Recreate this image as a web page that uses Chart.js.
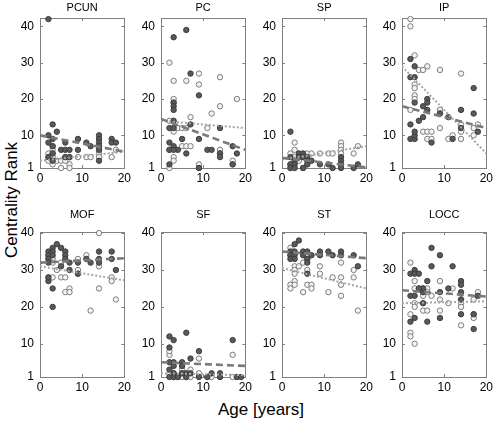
<!DOCTYPE html>
<html>
<head>
<meta charset="utf-8">
<script src="https://cdn.jsdelivr.net/npm/chart.js@4/dist/chart.umd.min.js"></script>
<style>
  body { margin: 0; background: #fff; }
  #page { position: relative; width: 498px; height: 421px; overflow: hidden; font-family: "Liberation Sans", Arial, sans-serif; }
  .lbl { position: absolute; font-size: 17px; color: #000; white-space: nowrap; }
</style>
</head>
<body>
<div id="page">
  <div class="lbl" id="ylab">Centrality Rank</div>
  <div class="lbl" id="xlab">Age [years]</div>
</div>
<script>
// region names, in panel order
const regions = ['PCUN', 'PC', 'SP', 'IP', 'MOF', 'SF', 'ST', 'LOCC'];
const xTicks = [0, 10, 20];
const yTicks = [1, 10, 20, 30, 40];

// [age, rank]; filled = dark dots, open = light circles
const pcunFilled = [[2,42],[2,10],[3,13],[4,11],[3,9],[2,8],[3,7],[2,4],[3,5],[5,6],[6,6],[7,6],[6,8],[7,4],[9,9],[9,6],[11,8],[12,7],[14,10],[14,9],[14,8],[14,7],[14,6],[14,3],[17,9],[17,8],[18,8],[3,3],[6,4]];
const pcunOpen = [[2,5],[2,4],[2,3],[3,7],[3,6],[3,5],[3,4],[3,3],[3,2],[4,3],[5,3],[6,3],[6,4],[5,1],[7,2],[7,1],[7,4],[9,4],[11,4],[12,4],[14,7],[14,6],[14,5],[14,4],[17,4],[18,6]];
const pcFilled = [[3,37],[6,39],[7,27],[9,21],[3,19],[3,18],[3,17],[3,14],[2,12],[3,12],[7,13],[2,8],[3,7],[4,6],[5,9],[6,5],[2,6],[9,9],[9,1],[2,2],[11,6],[12,6],[14,12],[14,5],[14,4],[17,7],[17,2],[18,5],[3,6]];
const pcOpen = [[2,30],[3,25],[3,20],[3,19],[6,25],[9,27],[9,24],[14,26],[14,18],[18,20],[12,16],[7,15],[11,12],[2,14],[3,12],[3,11],[4,12],[5,12],[6,12],[2,6],[3,4],[3,3],[5,7],[6,7],[7,7],[9,2],[9,1],[14,6],[14,5],[17,3],[17,2],[2,1]];
const spFilled = [[2,11],[2,4],[2,2],[2,1],[3,3],[3,2],[3,1],[4,5],[4,4],[5,5],[5,4],[5,1],[6,4],[6,3],[6,2],[7,3],[9,2],[11,2],[12,1],[14,4],[14,3],[14,2],[14,1],[17,1],[18,2]];
const spOpen = [[3,8],[3,6],[2,5],[2,2],[2,1],[4,4],[5,4],[6,5],[7,5],[9,5],[11,5],[12,5],[14,8],[14,7],[14,6],[14,5],[17,5],[18,7],[5,1],[6,2],[3,4],[4,3]];
const ipFilled = [[2,31],[2,26],[3,26],[3,29],[3,19],[6,20],[6,19],[6,17],[5,18],[5,15],[4,14],[2,13],[2,9],[3,9],[3,10],[3,11],[7,8],[9,16],[11,15],[12,9],[14,17],[14,12],[17,23],[17,16],[18,11]];
const ipOpen = [[2,42],[2,40],[3,32],[4,28],[5,28],[6,29],[9,28],[14,27],[3,24],[3,23],[3,21],[3,20],[2,17],[9,17],[9,16],[9,12],[5,11],[6,11],[7,11],[6,9],[7,9],[11,9],[12,10],[14,9],[14,11],[14,13],[17,12],[17,10],[18,13]];
const mofFilled = [[2,35],[2,34],[2,33],[2,32],[3,36],[3,35],[3,34],[4,37],[5,36],[6,35],[6,34],[6,33],[7,32],[2,27],[2,28],[3,25],[3,20],[5,31],[7,30],[9,32],[9,29],[11,33],[12,32],[14,35],[14,33],[14,32],[17,35],[17,33],[18,30]];
const mofOpen = [[2,33],[3,33],[3,32],[4,30],[2,28],[3,28],[5,28],[6,28],[6,24],[7,25],[7,24],[9,33],[9,30],[9,29],[11,34],[12,19],[14,40],[14,31],[14,25],[17,28],[17,27],[18,22],[5,32],[2,34]];
const sfFilled = [[2,12],[3,11],[6,13],[2,9],[3,5],[3,4],[3,2],[2,3],[2,5],[5,5],[5,4],[7,6],[9,8],[12,2],[14,2],[17,11],[18,1],[19,1],[2,1],[3,1],[4,1],[6,2],[7,2],[9,1],[11,1],[14,1],[6,1],[5,2]];
const sfOpen = [[2,7],[2,8],[9,6],[17,7],[2,2],[3,2],[3,1],[4,1],[5,1],[6,1],[7,1],[9,2],[11,1],[12,1],[14,1],[17,1],[18,1],[5,3],[7,3],[5,2]];
const stFilled = [[2,35],[2,34],[2,33],[3,37],[4,38],[3,35],[3,34],[5,35],[5,34],[6,35],[6,33],[6,29],[7,34],[9,35],[9,34],[11,35],[12,34],[14,35],[14,34],[17,34],[18,31],[3,33],[6,32]];
const stOpen = [[2,36],[3,31],[3,30],[3,29],[2,26],[2,25],[3,27],[3,26],[4,31],[5,32],[5,24],[6,33],[6,30],[6,26],[7,26],[7,25],[9,31],[9,29],[11,24],[12,28],[14,32],[14,28],[14,26],[14,23],[17,30],[17,28],[18,19],[2,34]];
const loccFilled = [[2,29],[3,30],[3,29],[4,29],[2,23],[3,23],[2,16],[3,17],[5,24],[5,21],[6,27],[6,16],[7,36],[7,31],[9,34],[9,24],[9,17],[11,25],[12,31],[14,27],[14,26],[14,24],[14,22],[14,18],[17,18],[17,14],[18,23],[5,25],[4,25]];
const loccOpen = [[2,32],[2,18],[2,13],[2,12],[3,27],[3,25],[3,21],[3,20],[3,10],[4,25],[5,25],[6,25],[5,23],[5,19],[6,19],[7,23],[9,27],[9,22],[9,19],[11,21],[12,25],[14,22],[14,21],[14,20],[14,15],[17,22],[17,18],[17,17],[18,24],[6,24]];

// fitted lines, rank at age 0 and at age 20
const dashedFit = [[10,5.5],[14.5,6],[3.8,1.2],[18,12],[32,33.2],[5,4],[35,33.2],[24.5,22.8]];
const dottedFit = [[3,5.5],[14,12],[3.3,7],[29,5],[31,27.2],[2,1.5],[30.5,25],[21,21.5]];

const filledSets = [pcunFilled, pcFilled, spFilled, ipFilled, mofFilled, sfFilled, stFilled, loccFilled];
const openSets = [pcunOpen, pcOpen, spOpen, ipOpen, mofOpen, sfOpen, stOpen, loccOpen];

// layout
const colLeft = [40, 161, 282, 402];
const plotW = 88;
const rowTop = [18, 232];
const rowH = [150, 145];
const rowYMax = [42.3, 40.3];
const rowPadTop = [18, 26];
const titleGap = [10, 17];
const AXW = 34, AXH = 20, PADR = 6;
const boxColor = '#808080';
const fontFam = '"Liberation Sans", Arial, sans-serif';

const toXY = a => a.map(p => ({x: p[0], y: p[1]}));

const boxPlugin = {
  id: 'box',
  beforeDatasetsDraw(chart) {
    const {ctx, chartArea: a, scales: {x, y}} = chart;
    ctx.save();
    ctx.strokeStyle = boxColor;
    ctx.lineWidth = 1;
    ctx.strokeRect(Math.round(a.left) + 0.5, Math.round(a.top) + 0.5, Math.round(a.right - a.left), Math.round(a.bottom - a.top));
    ctx.beginPath();
    xTicks.forEach(v => {
      const px = Math.round(x.getPixelForValue(v)) + 0.5;
      ctx.moveTo(px, a.bottom); ctx.lineTo(px, a.bottom - 3);
      ctx.moveTo(px, a.top); ctx.lineTo(px, a.top + 3);
    });
    yTicks.forEach(v => {
      const py = Math.round(y.getPixelForValue(v)) + 0.5;
      ctx.moveTo(a.left, py); ctx.lineTo(a.left + 3, py);
      ctx.moveTo(a.right, py); ctx.lineTo(a.right - 3, py);
    });
    ctx.stroke();
    ctx.restore();
  },
  afterDraw(chart) {
    const {ctx, chartArea: a} = chart;
    const o = chart.options.plugins.box;
    ctx.save();
    ctx.fillStyle = '#000';
    ctx.font = '11px ' + fontFam;
    ctx.textAlign = 'center';
    ctx.textBaseline = 'middle';
    ctx.fillText(o.title, (a.left + a.right) / 2, a.top - o.gap);
    ctx.restore();
  }
};

const page = document.getElementById('page');

regions.forEach((name, i) => {
  const row = Math.floor(i / 4), col = i % 4;
  const W = AXW + plotW + PADR;
  const H = rowPadTop[row] + rowH[row] + AXH;
  const canvas = document.createElement('canvas');
  canvas.width = W; canvas.height = H;
  canvas.style.cssText = `position:absolute;left:${colLeft[col] - AXW}px;top:${rowTop[row] - rowPadTop[row]}px;width:${W}px;height:${H}px`;
  page.appendChild(canvas);

  new Chart(canvas, {
    type: 'scatter',
    plugins: [boxPlugin],
    data: {
      datasets: [
        {
          type: 'line',
          data: [{x: 0, y: dashedFit[i][0]}, {x: 20, y: dashedFit[i][1]}],
          borderColor: '#7a7a7a', borderWidth: 2.6, borderDash: [7, 4],
          pointRadius: 0, fill: false
        },
        {
          type: 'line',
          data: [{x: 0, y: dottedFit[i][0]}, {x: 20, y: dottedFit[i][1]}],
          borderColor: '#a6a6a6', borderWidth: 2, borderDash: [2, 2],
          pointRadius: 0, fill: false
        },
        {
          data: toXY(filledSets[i]),
          backgroundColor: '#595959', borderColor: '#3c3c3c', borderWidth: 1,
          pointRadius: 2.7, clip: false
        },
        {
          data: toXY(openSets[i]),
          backgroundColor: '#f4f4f4', borderColor: '#7c7c7c', borderWidth: 1,
          pointRadius: 2.7, clip: false
        }
      ]
    },
    options: {
      responsive: false,
      animation: false,
      events: [],
      layout: {padding: {top: rowPadTop[row], right: PADR, left: 0, bottom: 0}},
      plugins: {
        legend: {display: false},
        tooltip: {enabled: false},
        box: {title: name, gap: titleGap[row]}
      },
      scales: {
        x: {
          type: 'linear', min: 0, max: 20,
          afterBuildTicks: s => { s.ticks = xTicks.map(v => ({value: v})); },
          afterFit: s => { s.height = AXH; },
          grid: {display: false, drawTicks: false},
          border: {display: false},
          ticks: {color: '#000', padding: 3, font: {size: 12, family: fontFam}, maxRotation: 0}
        },
        y: {
          type: 'linear', min: 1, max: rowYMax[row],
          afterBuildTicks: s => { s.ticks = yTicks.map(v => ({value: v})); },
          afterFit: s => { s.width = AXW; },
          grid: {display: false, drawTicks: false},
          border: {display: false},
          ticks: {color: '#000', padding: 6, font: {size: 12, family: fontFam}}
        }
      }
    }
  });
});

const ylab = document.getElementById('ylab');
ylab.style.left = '12px';
ylab.style.top = '200px';
ylab.style.transform = 'translate(-50%, -50%) rotate(-90deg)';
const xlab = document.getElementById('xlab');
xlab.style.left = '261px';
xlab.style.top = '410px';
xlab.style.transform = 'translate(-50%, -50%)';
</script>
</body>
</html>
